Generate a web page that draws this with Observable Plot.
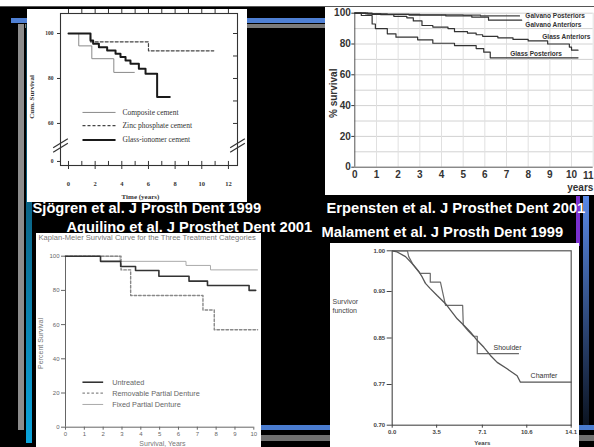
<!DOCTYPE html>
<html><head><meta charset="utf-8">
<script src="https://cdn.jsdelivr.net/npm/d3@7"></script>
<script src="https://cdn.jsdelivr.net/npm/@observablehq/plot@0.6"></script>
<style>
html,body{margin:0;padding:0;background:#000;}
#slide{position:relative;width:594px;height:447px;overflow:hidden;background:#000;}
.abs{position:absolute;}
.panel{position:absolute;overflow:hidden;background:#fff;}
.panel svg{display:block;}
.cap{position:absolute;color:#fff;font-family:"Liberation Sans",Arial,sans-serif;font-weight:bold;font-size:14.7px;line-height:12px;white-space:nowrap;}
</style></head><body>
<div id="slide">
  <div class="abs" style="left:0;top:0;width:594px;height:6px;background:#fff"></div>
  <div class="abs" style="left:0;top:6px;width:594px;height:1px;background:#555"></div>
  <div class="abs" style="left:11px;top:18px;width:583px;height:5px;background:#4f80d4"></div>
  <div class="abs" style="left:25px;top:24px;width:569px;height:4px;background:#7a7a7a"></div>
  <div class="abs" style="left:18px;top:24px;width:6px;height:406px;background:#8c8c8c"></div>
  <div class="abs" style="left:26px;top:24px;width:6px;height:419px;background:linear-gradient(#0b3344,#0aa4dc)"></div>
  <div class="abs" style="left:40px;top:425px;width:554px;height:5px;background:#4a7cd0"></div>
  <div class="abs" style="left:40px;top:435px;width:554px;height:6px;background:#707070"></div>
  <div class="abs" style="left:576px;top:196px;width:4px;height:50px;background:#7a30d0"></div>
  <div class="abs" style="left:583px;top:196px;width:6px;height:229px;background:linear-gradient(#5888e4,#0c1422)"></div>
  <div id="p1" class="panel" style="left:27px;top:9px;width:220px;height:193px"></div>
  <div id="p2" class="panel" style="left:325px;top:7px;width:269px;height:188px"></div>
  <div id="p3" class="panel" style="left:36px;top:233px;width:225px;height:214px"></div>
  <div id="p4" class="panel" style="left:330px;top:243px;width:249px;height:204px"></div>
  <div id="c1" class="cap" style="left:32.5px;top:202.2px"></div>
  <div id="c2" class="cap" style="left:326.5px;top:202.2px"></div>
  <div id="c3" class="cap" style="left:66.5px;top:220.8px"></div>
  <div id="c4" class="cap" style="left:321.5px;top:226.1px"></div>
</div>
<script>
// ---------- captions ----------
const captions = ["Sjögren et al. J Prosth Dent 1999", "Erpensten et al. J Prosthet Dent 2001",
  "Aquilino et al. J Prosthet Dent 2001", "Malament et al. J Prosth Dent 1999"];

// ---------- Sjögren et al. 1999 ----------
const sjXTicks = [0, 2, 4, 6, 8, 10, 12];
const sjYTicks = [0, 60, 80, 100];
const sjLegend = ["Composite cement", "Zinc phosphate cement", "Glass-ionomer cement"];
const sjCompositeT = [0, 0.77, 1.75, 3.4, 4.95];
const sjCompositeS = [100, 94.5, 88.8, 82.7, 82.7];
const sjZincT = [0, 1.65, 6.0, 10.9];
const sjZincS = [100, 96.3, 92.3, 92.3];
const sjGlassT = [0, 1.65, 1.85, 2.28, 2.9, 3.53, 3.9, 4.28, 4.65, 5.28, 5.78, 6.65, 7.6];
const sjGlassS = [100, 96.9, 95.4, 93.9, 92.4, 91, 89.5, 88, 86.5, 84.3, 82.1, 71.8, 71.8];

// ---------- Erpensten et al. 2001 ----------
const erXTicks = [0, 1, 2, 3, 4, 5, 6, 7, 8, 9, 10, 11];
const erYTicks = [0, 20, 40, 60, 80, 100];
const erSeries = ["Galvano Posteriors", "Galvano Anteriors", "Glass Anteriors", "Glass Posteriors"];
const erGalvPostT = [0, 0.5, 1.5, 3.0, 5.0, 5.8, 7.6];
const erGalvPostS = [100, 99.6, 99.3, 99, 98.7, 98.2, 98.2];
const erGalvAntT = [0, 0.8, 2.5, 4.2, 5.4, 6.17, 7.7];
const erGalvAntS = [100, 99.3, 98.8, 98.2, 97.4, 95.5, 95.5];
const erGlassAntT = [0, 0.6, 1.2, 1.8, 2.4, 2.7, 3.1, 3.6, 4.3, 4.6, 5.2, 5.6, 5.9, 6.6, 7.3, 8.0, 8.9, 9.9, 10.0, 10.3];
const erGlassAntS = [100, 99.5, 99, 98, 97, 95, 92, 91, 90, 88, 87, 86, 85, 84, 83, 82, 80, 78, 76, 76];
const erGlassPostT = [0, 0.3, 0.8, 0.95, 1.5, 1.9, 2.9, 3.6, 4.6, 5.6, 5.95, 6.25, 10.3];
const erGlassPostS = [100, 98.5, 93, 90, 86.6, 84.4, 82.7, 80.5, 79, 77, 74.7, 71, 71];

// ---------- Aquilino et al. 2001 ----------
const aqTitle = "Kaplan-Meier Survival Curve for the Three Treatment Categories";
const aqXTicks = [0, 1, 2, 3, 4, 5, 6, 7, 8, 9, 10];
const aqYTicks = [0, 20, 40, 60, 80, 100];
const aqLegend = ["Untreated", "Removable Partial Denture", "Fixed Partial Denture"];
const aqUntreatedT = [0, 1.86, 2.93, 3.72, 4.96, 6.56, 7.54, 9.75, 10.1];
const aqUntreatedS = [100, 97, 94, 91.6, 88.3, 85.4, 82.9, 80, 80];
const aqRpdT = [0, 2.95, 3.46, 7.3, 7.9, 10.2];
const aqRpdS = [100, 92, 77, 68.5, 57, 57];
const aqFpdT = [0, 2.9, 6.4, 7.7, 10.2];
const aqFpdS = [100, 97, 94.6, 92, 92];

// ---------- Malament et al. 1999 ----------
const mlXTicks = [0.0, 3.5, 7.1, 10.6, 14.1];
const mlYTicks = [0.70, 0.77, 0.85, 0.93, 1.00];
const mlSeries = ["Shoulder", "Chamfer"];
const mlChamferT = [0, 0.39, 1.05, 1.57, 2.1, 2.36, 2.62, 3.0, 3.54, 4.2, 4.59, 5.12, 5.64, 6.17, 6.69, 7.22, 7.74, 8.27, 9.05, 9.84, 10.1, 14.1];
const mlChamferS = [1.0, 0.998, 0.99, 0.978, 0.964, 0.955, 0.944, 0.935, 0.923, 0.909, 0.898, 0.883, 0.872, 0.86, 0.846, 0.834, 0.82, 0.808, 0.797, 0.785, 0.774, 0.774];
const mlShoulderT = [0, 1.2, 1.3, 1.6, 2.1, 2.2, 3.0, 3.0, 3.8, 4.2, 5.55, 5.6, 6.0, 6.4, 6.7, 6.7, 6.7, 9.95];
const mlShoulderS = [1.0, 1.0, 0.99, 0.978, 0.964, 0.961, 0.961, 0.946, 0.946, 0.906, 0.906, 0.872, 0.862, 0.853, 0.853, 0.84, 0.823, 0.823];

// ---------- helpers ----------
const rows = (t, s) => t.map((d, i) => ({t: d, s: s[i]}));
const serif = "'Liberation Serif','DejaVu Serif',serif";
const sans = "'Liberation Sans',Arial,sans-serif";

["c1", "c2", "c3", "c4"].forEach((id, i) => document.getElementById(id).textContent = captions[i]);

// ===== Panel 1 =====
const sjX = [-0.6, 12.68], sjY = [41.3, 108.9];
const sjBreak = 50.2;
const brk = v => (v === 0 ? 43.1 : v);
const sjBreakLines = sjX.flatMap(x => [-1, 1].map(o => ({x1: x - 0.55, x2: x + 0.55, y1: sjBreak + o - 2, y2: sjBreak + o + 2})));
const sjLegY = [64.9, 59.0, 52.6];
const p1 = Plot.plot({
  width: 220, height: 193, marginLeft: 33, marginRight: 10, marginTop: 4, marginBottom: 37,
  x: {domain: sjX}, y: {domain: sjY},
  style: {background: "#fff", color: "#333", fontFamily: serif, fontSize: "6px"},
  marks: [
    Plot.frame({stroke: "#333", strokeWidth: 1.1}),
    Plot.ruleX(d3.range(0, 13), {y1: sjY[1], y2: sjY[1] + 1.8, stroke: "#333"}),
    Plot.ruleX(d3.range(0, 13), {y1: sjY[0], y2: sjY[0] + 1.8, stroke: "#333"}),
    Plot.ruleY(d3.range(60, 101, 10), {x1: sjX[1] - 0.3, x2: sjX[1], stroke: "#333"}),
    Plot.axisX({ticks: sjXTicks, tickSize: 4, tickPadding: 12, label: null, fontWeight: "bold", fontSize: 6.5}),
    Plot.axisY({ticks: sjYTicks.map(brk), tickFormat: v => (v < 50 ? "0" : String(v)), tickSize: 3, tickPadding: 4, label: null, fontWeight: "bold", fontSize: 5.5}),
    Plot.link(sjBreakLines, {x1: "x1", y1: "y1", x2: "x2", y2: "y2", stroke: "#333", strokeWidth: 1.2}),
    Plot.line(rows(sjCompositeT, sjCompositeS), {x: "t", y: "s", curve: "step-after", stroke: "#8a8a8a", strokeWidth: 1}),
    Plot.line(rows(sjZincT, sjZincS), {x: "t", y: "s", curve: "step-after", stroke: "#444", strokeWidth: 1.2, strokeDasharray: "3,2"}),
    Plot.line(rows(sjGlassT, sjGlassS), {x: "t", y: "s", curve: "step-after", stroke: "#1a1a1a", strokeWidth: 2}),
    Plot.link([sjLegY[0]], {x1: 1.05, x2: 3.53, y1: d => d, y2: d => d, stroke: "#8a8a8a", strokeWidth: 1}),
    Plot.link([sjLegY[1]], {x1: 1.05, x2: 3.53, y1: d => d, y2: d => d, stroke: "#444", strokeWidth: 1.2, strokeDasharray: "3,2"}),
    Plot.link([sjLegY[2]], {x1: 1.05, x2: 3.53, y1: d => d, y2: d => d, stroke: "#1a1a1a", strokeWidth: 2}),
    Plot.text(sjLegend, {x: 4.05, y: (d, i) => sjLegY[i], text: d => d, textAnchor: "start", fontSize: 7.5, fill: "#333"}),
    Plot.text(["Cum. Survival"], {x: sjX[0], y: 71.8, dx: -29, rotate: -90, fontSize: 7, fontWeight: "bold"}),
    Plot.text(["Time (years)"], {x: 5.4, y: sjY[0], dy: 31, fontSize: 7, fontWeight: "bold"})
  ]
});
document.getElementById("p1").append(p1);

// ===== Panel 2 =====
const erLab = [{x: 7.87, y: 98.5}, {x: 7.87, y: 92.5}, {x: 8.65, y: 84.4}, {x: 7.17, y: 73.6}];
const erLast = erXTicks[erXTicks.length - 1];
const p2 = Plot.plot({
  width: 269, height: 188, marginLeft: 29.3, marginRight: 1.3, marginTop: 5.7, marginBottom: 28.3,
  x: {domain: [0, 11]}, y: {domain: [0, 100]},
  style: {background: "#fff", color: "#333", fontFamily: sans, fontSize: "10px", fontWeight: "bold"},
  marks: [
    Plot.ruleY(d3.range(10, 101, 10), {stroke: "#d2d2d2"}),
    Plot.ruleX(d3.range(1, 12), {stroke: "#e0e0e0"}),
    Plot.ruleX([0], {stroke: "#555"}),
    Plot.ruleY([0], {stroke: "#555"}),
    Plot.axisY({ticks: erYTicks, tickSize: 3, tickPadding: 1, label: null, fontSize: 10, fontWeight: "bold"}),
    Plot.axisX({ticks: erXTicks.slice(0, -1), tickSize: 0, tickPadding: 4, label: null, fontSize: 10, fontWeight: "bold"}),
    Plot.text([erLast], {x: d => d, y: 0, dy: 9, text: d => String(d), textAnchor: "end", dx: 0.3, fontSize: 10, fontWeight: "bold"}),
    Plot.line(rows(erGalvPostT, erGalvPostS), {x: "t", y: "s", curve: "step-after", stroke: "#444", strokeWidth: 1.2}),
    Plot.line(rows(erGalvAntT, erGalvAntS), {x: "t", y: "s", curve: "step-after", stroke: "#333", strokeWidth: 1.2}),
    Plot.line(rows(erGlassAntT, erGlassAntS), {x: "t", y: "s", curve: "step-after", stroke: "#333", strokeWidth: 1.2}),
    Plot.line(rows(erGlassPostT, erGlassPostS), {x: "t", y: "s", curve: "step-after", stroke: "#333", strokeWidth: 1.2}),
    Plot.text(erSeries, {x: (d, i) => erLab[i].x, y: (d, i) => erLab[i].y, text: d => d, textAnchor: "start", fontSize: 6.5, fontWeight: "bold", fill: "#333"}),
    Plot.text(["years"], {x: 9.8, y: 0, dy: 21, textAnchor: "start", fontSize: 10, fontWeight: "bold"}),
    Plot.text(["% survival"], {x: 0, y: 48, dx: -21, rotate: -90, fontSize: 10, fontWeight: "bold"})
  ]
});
document.getElementById("p2").append(p2);

// ===== Panel 3 =====
const aqLegY = [26.3, 19.9, 13.3];
const p3 = Plot.plot({
  width: 225, height: 214, marginLeft: 29, marginRight: 7.7, marginTop: 22.7, marginBottom: 20.3,
  x: {domain: [0, 10]}, y: {domain: [0, 100]},
  style: {background: "#fff", color: "#666", fontFamily: sans, fontSize: "6px"},
  marks: [
    Plot.ruleX([0], {stroke: "#666"}),
    Plot.ruleY([0], {stroke: "#666"}),
    Plot.axisY({ticks: aqYTicks, tickSize: 4, tickPadding: 2, label: null, fontSize: 6}),
    Plot.axisX({ticks: aqXTicks, tickSize: 3, tickPadding: 2, label: null, fontSize: 6}),
    Plot.line(rows(aqFpdT, aqFpdS), {x: "t", y: "s", curve: "step-after", stroke: "#aaa", strokeWidth: 1}),
    Plot.line(rows(aqRpdT, aqRpdS), {x: "t", y: "s", curve: "step-after", stroke: "#888", strokeWidth: 1.4, strokeDasharray: "2.5,2"}),
    Plot.line(rows(aqUntreatedT, aqUntreatedS), {x: "t", y: "s", curve: "step-after", stroke: "#333", strokeWidth: 1.6}),
    Plot.link([aqLegY[0]], {x1: 0.9, x2: 2.0, y1: d => d, y2: d => d, stroke: "#333", strokeWidth: 1.6}),
    Plot.link([aqLegY[1]], {x1: 0.9, x2: 2.0, y1: d => d, y2: d => d, stroke: "#888", strokeWidth: 1.4, strokeDasharray: "2.5,2"}),
    Plot.link([aqLegY[2]], {x1: 0.9, x2: 2.0, y1: d => d, y2: d => d, stroke: "#aaa", strokeWidth: 1}),
    Plot.text(aqLegend, {x: 2.48, y: (d, i) => aqLegY[i], text: d => d, textAnchor: "start", fontSize: 7.3, fill: "#666"}),
    Plot.text([aqTitle], {x: 0, y: 100, dx: -27, dy: -18.3, textAnchor: "start", fontSize: 7.6, fill: "#777"}),
    Plot.text(["Percent Survival"], {x: 0, y: 49, dx: -25, rotate: -90, fontSize: 7, fill: "#777"}),
    Plot.text(["Survival, Years"], {x: 5.15, y: 0, dy: 16.5, fontSize: 7, fill: "#777"})
  ]
});
document.getElementById("p3").append(p3);

// ===== Panel 4 =====
const mlLab = [{x: 7.98, y: 0.834}, {x: 10.9, y: 0.785}];
const p4 = Plot.plot({
  width: 249, height: 204, marginLeft: 61.7, marginRight: 8.3, marginTop: 7.3, marginBottom: 22.3,
  x: {domain: [0, 14.1]}, y: {domain: [0.70, 1.00]},
  style: {background: "#fff", color: "#444", fontFamily: sans, fontSize: "6px"},
  marks: [
    Plot.frame({stroke: "#555", strokeWidth: 1.2}),
    Plot.axisY({ticks: mlYTicks, tickFormat: d3.format(".2f"), tickSize: 5, tickPadding: 2, label: null, fontSize: 6, fontWeight: "bold"}),
    Plot.axisX({ticks: mlXTicks, tickFormat: d3.format(".1f"), tickSize: 3, tickPadding: 2, label: null, fontSize: 6, fontWeight: "bold"}),
    Plot.line(rows(mlShoulderT, mlShoulderS), {x: "t", y: "s", stroke: "#6a6a6a", strokeWidth: 1.2}),
    Plot.line(rows(mlChamferT, mlChamferS), {x: "t", y: "s", stroke: "#555", strokeWidth: 1.3}),
    Plot.text(mlSeries, {x: (d, i) => mlLab[i].x, y: (d, i) => mlLab[i].y, text: d => d, textAnchor: "start", fontSize: 7, fill: "#333"}),
    Plot.text(["Survivor\nfunction"], {x: 0, y: 0.905, dx: -59.7, textAnchor: "start", lineHeight: 1.3, fontSize: 7, fill: "#444"}),
    Plot.text(["Years"], {x: 7.1, y: 0.70, dy: 17.5, fontSize: 6, fontWeight: "bold", fill: "#444"})
  ]
});
document.getElementById("p4").append(p4);
</script>
</body></html>
